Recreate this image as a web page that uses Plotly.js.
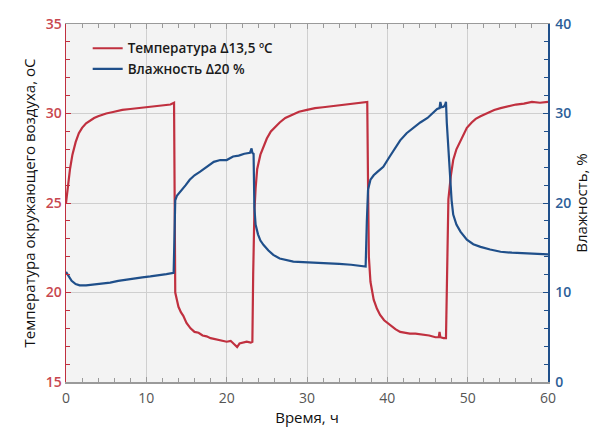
<!DOCTYPE html>
<html>
<head>
<meta charset="utf-8">
<script src="https://cdn.plot.ly/plotly-3.0.1.min.js"></script>
<style>
  html, body { margin: 0; padding: 0; background: #fff; }
  #chart { width: 601px; height: 430px; }
</style>
</head>
<body>
<div id="chart"></div>
<script>
// Air temperature, °C (left axis)
const tempTime = [0, 0.2, 0.5, 0.8, 1.2, 1.6, 2, 2.5, 3, 3.5, 4, 5, 6, 7, 8, 9, 10, 11, 12, 13, 13.45,
  13.5, 13.6, 13.8, 14.0, 14.3, 14.6, 15, 15.5, 16, 16.5, 17, 17.5, 18, 19, 20, 20.5, 21, 21.3, 21.6, 22, 22.5, 23, 23.2,
  23.3, 23.45, 23.6, 23.8, 24.2, 24.6, 25, 25.5, 26, 26.6, 27.3, 28, 29, 30, 31, 32, 33, 34, 35, 36, 37, 37.5,
  37.6, 37.7, 37.9, 38.3, 38.7, 39.1, 39.6, 40.3, 41, 41.6, 42.2, 42.8, 43.5, 44.5, 45.2, 46, 46.4, 46.5, 46.6, 47, 47.3,
  47.4, 47.5, 47.6, 47.9, 48.2, 48.6, 49.1, 49.5, 49.9, 50.5, 51, 51.6, 52.5, 53.3, 54.1, 55, 56, 57, 58, 59, 60];
const tempValues = [25.0, 25.9, 26.9, 27.7, 28.4, 28.9, 29.2, 29.45, 29.6, 29.75, 29.85, 30.0, 30.1, 30.2, 30.25, 30.3, 30.35, 30.4, 30.45, 30.5, 30.6,
  22.0, 20.0, 19.6, 19.2, 18.9, 18.7, 18.3, 18.0, 17.8, 17.75, 17.6, 17.55, 17.45, 17.35, 17.25, 17.3, 17.1, 16.95, 17.15, 17.2, 17.25, 17.2, 17.25,
  21.0, 24.5, 25.8, 26.9, 27.7, 28.2, 28.6, 29.0, 29.25, 29.5, 29.75, 29.9, 30.1, 30.2, 30.3, 30.35, 30.4, 30.45, 30.5, 30.55, 30.6, 30.65,
  26.0, 22.0, 20.6, 19.6, 19.1, 18.75, 18.45, 18.2, 17.95, 17.8, 17.75, 17.7, 17.7, 17.65, 17.6, 17.5, 17.5, 17.8, 17.5, 17.45, 17.45,
  20.0, 23.0, 25.2, 26.5, 27.4, 28.0, 28.5, 28.9, 29.2, 29.5, 29.7, 29.85, 30.05, 30.2, 30.3, 30.4, 30.5, 30.55, 30.65, 30.6, 30.65];

// Relative humidity, % (right axis)
const humTime = [0, 0.3, 0.7, 1.2, 1.7, 2.5, 3.5, 4.5, 5.5, 6.5, 7.5, 8.5, 9.5, 10.5, 11.5, 12.5, 13.4,
  13.5, 13.6, 13.8, 14.1, 14.4, 14.9, 15.4, 16, 16.7, 17.5, 18.4, 19.2, 20, 20.8, 21.5, 22.2, 22.9, 23.1, 23.2, 23.35,
  23.45, 23.6, 23.9, 24.2, 24.6, 25.2, 25.8, 26.6, 27.4, 28.3, 29.5, 31, 32.5, 34, 35.5, 36.5, 37.3,
  37.45, 37.6, 37.9, 38.3, 38.8, 39.5, 40.3, 41, 41.6, 42.4, 43.2, 44.1, 45, 45.6, 46.2, 46.5, 46.6, 46.75, 47, 47.2, 47.3,
  47.4, 47.7, 48.0, 48.2, 48.6, 49.1, 49.5, 49.9, 50.7, 51.6, 52.8, 54.1, 55.5, 57, 58.2, 59, 60];
const humValues = [12.3, 11.8, 11.3, 10.95, 10.8, 10.8, 10.9, 11.0, 11.1, 11.3, 11.45, 11.6, 11.7, 11.8, 11.9, 12.05, 12.2,
  18.0, 20.3, 20.8, 21.1, 21.45, 22.0, 22.6, 23.1, 23.5, 24.0, 24.6, 24.8, 24.8, 25.2, 25.3, 25.5, 25.6, 26.1, 25.6, 25.5,
  19.5, 17.6, 16.5, 15.8, 15.3, 14.7, 14.2, 13.8, 13.6, 13.45, 13.4, 13.35, 13.3, 13.2, 13.1, 13.0, 12.9,
  18.0, 21.5, 22.6, 23.1, 23.5, 24.05, 25.2, 26.2, 27.0, 27.8, 28.4, 29.0, 29.5, 30.0, 30.5, 30.6, 31.3, 30.7, 30.75, 31.0, 31.3,
  29.0, 24.5, 20.3, 18.7, 17.6, 16.8, 16.3, 15.9, 15.4, 15.1, 14.8, 14.55, 14.45, 14.4, 14.35, 14.3, 14.25];

const tempName = 'Температура Δ13,5 ºC';
const humName = 'Влажность Δ20 %';

const RED = '#c0303f';
const BLUE = '#1f4f8a';
const RED_TXT = '#c8474f';
const BLUE_TXT = '#2d5e98';
const GRID = '#cfcfcf';
const FONT = 'Open Sans, DejaVu Sans, sans-serif';

const traces = [
  { x: tempTime, y: tempValues, name: tempName, type: 'scatter', mode: 'lines',
    line: { color: RED, width: 2.2 }, yaxis: 'y' },
  { x: humTime, y: humValues, name: humName, type: 'scatter', mode: 'lines',
    line: { color: BLUE, width: 2.2 }, yaxis: 'y2' }
];

const layout = {
  width: 601, height: 430,
  margin: { l: 66, r: 53, t: 24, b: 48 },
  paper_bgcolor: '#ffffff',
  plot_bgcolor: '#f3f3f3',
  showlegend: true,
  legend: {
    x: 0.045, y: 0.975, xanchor: 'left', yanchor: 'top',
    bgcolor: 'rgba(0,0,0,0)', borderwidth: 0,
    font: { family: FONT, size: 13.5, color: '#1a1a1a', weight: 600 },
    tracegroupgap: 0, itemwidth: 30
  },
  xaxis: {
    range: [0, 60], dtick: 10, tick0: 0,
    showgrid: true, gridcolor: GRID, gridwidth: 1, zeroline: false,
    showline: true, linecolor: '#9a9a9a', linewidth: 1.5, mirror: 'ticks',
    ticks: 'inside', ticklen: 5, tickcolor: '#9a9a9a', tickwidth: 1,
    minor: { dtick: 2, ticks: 'inside', ticklen: 4, tickcolor: '#9a9a9a', showgrid: false },
    tickfont: { family: FONT, size: 14, color: '#555555' },
    ticklabelstandoff: 3,
    title: { text: 'Время, ч', font: { family: FONT, size: 15, color: '#111111' }, standoff: 6 }
  },
  yaxis: {
    range: [15, 35], dtick: 5, tick0: 15,
    showgrid: true, gridcolor: GRID, gridwidth: 1, zeroline: false,
    showline: true, linecolor: RED, linewidth: 1.5,
    ticks: 'inside', ticklen: 5, tickcolor: RED, tickwidth: 1,
    minor: { dtick: 1, ticks: 'inside', ticklen: 4, tickcolor: RED, showgrid: false },
    tickfont: { family: FONT, size: 14, color: RED_TXT, weight: 600 },
    title: { text: 'Температура окружающего воздуха, oC', font: { family: FONT, size: 15, color: '#111111' }, standoff: 6 }
  },
  yaxis2: {
    range: [0, 40], dtick: 10, tick0: 0,
    overlaying: 'y', side: 'right',
    showgrid: false, zeroline: false,
    showline: true, linecolor: BLUE, linewidth: 1.5,
    ticks: 'inside', ticklen: 5, tickcolor: BLUE, tickwidth: 1,
    minor: { dtick: 2, ticks: 'inside', ticklen: 4, tickcolor: BLUE, showgrid: false },
    tickfont: { family: FONT, size: 14, color: BLUE_TXT, weight: 600 },
    ticklabelstandoff: 3,
    title: { text: 'Влажность, %', font: { family: FONT, size: 15, color: '#111111' }, standoff: 5 }
  }
};

Plotly.newPlot('chart', traces, layout, { displayModeBar: false, staticPlot: true });
</script>
</body>
</html>
